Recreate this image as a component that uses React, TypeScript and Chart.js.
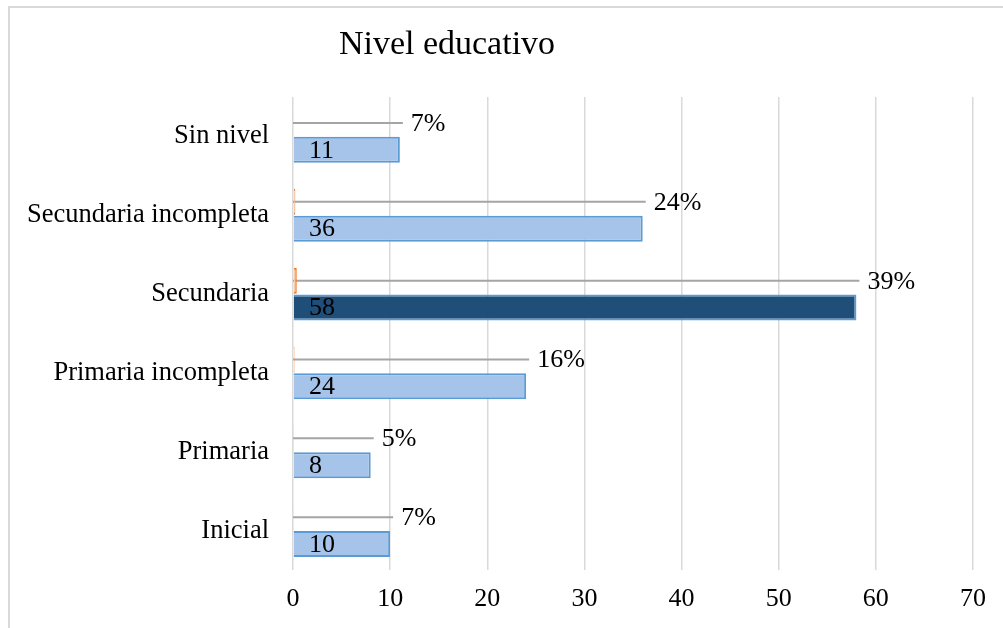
import React, { useEffect, useRef } from "react";
import { Chart, registerables } from "chart.js";

Chart.register(...registerables);

// Education level of respondents: counts and their share of the total
const categories = [
  "Sin nivel",
  "Secundaria incompleta",
  "Secundaria",
  "Primaria incompleta",
  "Primaria",
  "Inicial",
];
const counts = [11, 36, 58, 24, 8, 10];
const percents = [7, 24, 39, 16, 5, 7];
const xMin = 0;
const xMax = 70;
const xStep = 10;
const chartTitle = "Nivel educativo";

const SERIF = "'Liberation Serif', 'Times New Roman', serif";
const LIGHT_BLUE = "#a6c3e9";
const DARK_BLUE = "#1f4e79";
const BLUE_EDGE = "#5b9bd5";
const ORANGE_EDGE = "#ed7d31";
const ORANGE_FILL = "#f8cbad";
const LEADER_GRAY = "#a5a5a5";

const maxCount = Math.max(...counts);

// Frame, title and the value labels are drawn by hand on the canvas
const decorations = {
  id: "decorations",
  beforeDraw(chart: any) {
    const { ctx, width, height } = chart;
    ctx.save();
    ctx.fillStyle = "#ffffff";
    ctx.fillRect(0, 0, width, height);
    ctx.strokeStyle = "#d9d9d9";
    ctx.lineWidth = 2;
    ctx.strokeRect(9, 7, width + 20, height + 20);
    ctx.restore();
  },
  beforeDatasetsDraw(chart: any) {
    const { ctx } = chart;
    const xs = chart.scales.x;
    const pctMeta = chart.getDatasetMeta(0);
    ctx.save();
    ctx.strokeStyle = LEADER_GRAY;
    ctx.lineWidth = 2;
    pctMeta.data.forEach((bar: any, i: number) => {
      const x0 = xs.getPixelForValue(0);
      const x1 = xs.getPixelForValue(counts[i]) + 3;
      ctx.beginPath();
      ctx.moveTo(x0, bar.y);
      ctx.lineTo(x1, bar.y);
      ctx.stroke();
    });
    ctx.restore();
  },
  afterDatasetsDraw(chart: any) {
    const { ctx } = chart;
    const xs = chart.scales.x;
    const pctMeta = chart.getDatasetMeta(0);
    const cntMeta = chart.getDatasetMeta(1);
    ctx.save();
    ctx.fillStyle = "#000000";
    ctx.font = `26px ${SERIF}`;
    ctx.textAlign = "left";
    ctx.textBaseline = "middle";
    pctMeta.data.forEach((bar: any, i: number) => {
      const x1 = xs.getPixelForValue(counts[i]) + 11;
      ctx.fillText(`${percents[i]}%`, x1, bar.y + 1);
    });
    cntMeta.data.forEach((bar: any, i: number) => {
      const x0 = xs.getPixelForValue(0) + 16;
      ctx.fillText(`${counts[i]}`, x0, bar.y + 1);
    });
    ctx.restore();
  },
  afterDraw(chart: any) {
    const { ctx } = chart;
    ctx.save();
    ctx.fillStyle = "#000000";
    ctx.font = `34px ${SERIF}`;
    ctx.textAlign = "center";
    ctx.textBaseline = "alphabetic";
    ctx.fillText(chartTitle, 447, 54);
    ctx.restore();
  },
};

export default function App() {
  const canvasRef = useRef<HTMLCanvasElement | null>(null);

  useEffect(() => {
    const canvas = canvasRef.current;
    if (!canvas) return;
    const chart = new Chart(canvas, {
      type: "bar",
      data: {
        labels: categories,
        datasets: [
          {
            label: "Porcentaje",
            data: percents.map((p) => p / 100),
            backgroundColor: ORANGE_FILL,
            borderColor: ORANGE_EDGE,
            borderWidth: 2,
            categoryPercentage: 0.68,
            barPercentage: 0.97,
          },
          {
            label: "Cantidad",
            data: counts,
            backgroundColor: counts.map((c) => (c === maxCount ? DARK_BLUE : LIGHT_BLUE)),
            borderColor: BLUE_EDGE,
            borderWidth: 2,
            categoryPercentage: 0.68,
            barPercentage: 0.97,
          },
        ],
      },
      options: {
        indexAxis: "y",
        responsive: false,
        animation: false,
        layout: { padding: { top: 97, right: 30, left: 0, bottom: 0 } },
        plugins: {
          legend: { display: false },
          title: { display: false },
          tooltip: { enabled: false },
        },
        scales: {
          x: {
            min: xMin,
            max: xMax,
            ticks: {
              stepSize: xStep,
              color: "#000000",
              font: { family: SERIF, size: 26 },
              padding: 14,
              maxRotation: 0,
            },
            grid: { color: "#d9d9d9", lineWidth: 1.5, drawTicks: false },
            border: { display: false },
            afterFit(scale: any) {
              scale.height = 58;
            },
          },
          y: {
            ticks: {
              color: "#000000",
              font: { family: SERIF, size: 26.5 },
              padding: 24,
            },
            grid: { display: false, drawTicks: false },
            border: { display: false },
            afterFit(scale: any) {
              scale.width = 293;
            },
          },
        },
      },
      plugins: [decorations],
    });
    return () => chart.destroy();
  }, []);

  return (
    <div style={{ position: "fixed", left: 0, top: 0, width: 1003, height: 628 }}>
      <canvas ref={canvasRef} width={1003} height={628} style={{ display: "block" }} />
    </div>
  );
}
